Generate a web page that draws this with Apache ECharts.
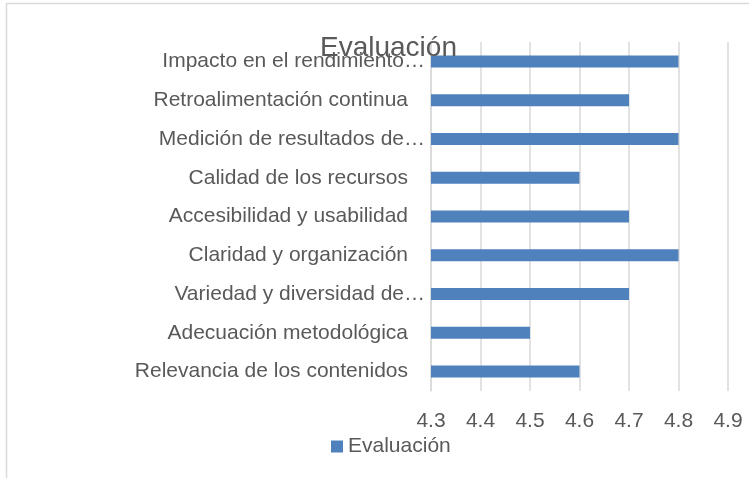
<!DOCTYPE html>
<html>
<head>
<meta charset="utf-8">
<script src="https://cdn.jsdelivr.net/npm/echarts@6/dist/echarts.min.js"></script>
<style>
  html, body { margin: 0; padding: 0; background: #fff; }
  #chart { width: 749px; height: 478px; }
</style>
</head>
<body>
<div id="chart"></div>
<script>
// bottom to top, as drawn
const categories = [
  'Relevancia de los contenidos',
  'Adecuación metodológica',
  'Variedad y diversidad de…',
  'Claridad y organización',
  'Accesibilidad y usabilidad',
  'Calidad de los recursos',
  'Medición de resultados de…',
  'Retroalimentación continua',
  'Impacto en el rendimiento…',
];
const evaluacion = [4.6, 4.5, 4.7, 4.8, 4.7, 4.6, 4.8, 4.7, 4.8];
const xMin = 4.3;
const xMax = 4.9;

const font = 'Liberation Sans, Arial, sans-serif';
const textColor = '#595959';
const gridColor = '#d9d9d9';

const chart = echarts.init(document.getElementById('chart'));
chart.setOption({
  animation: false,
  graphic: [{
    type: 'rect',
    shape: { x: 6.5, y: 3.5, width: 900, height: 700 },
    style: { fill: 'none', stroke: gridColor, lineWidth: 1.5 },
    z: -1,
  }],
  title: {
    text: 'Evaluación',
    left: 315,
    top: 29,
    textStyle: { fontFamily: font, fontSize: 28, fontWeight: 'normal', color: textColor },
  },
  legend: {
    data: ['Evaluación'],
    left: 326,
    top: 431,
    icon: 'rect',
    itemWidth: 12,
    itemHeight: 12,
    itemGap: 4,
    textStyle: { fontFamily: font, fontSize: 21, color: textColor },
  },
  grid: { left: 431, right: 21, top: 42, bottom: 87, containLabel: false },
  xAxis: {
    type: 'value',
    min: xMin,
    max: xMax,
    interval: 0.1,
    axisLine: { show: false },
    axisTick: { show: false },
    axisLabel: {
      margin: 20,
      fontFamily: font,
      fontSize: 21,
      color: textColor,
      formatter: v => v.toFixed(1),
    },
    splitLine: { lineStyle: { color: gridColor, width: 1.5 } },
  },
  yAxis: {
    type: 'category',
    data: categories,
    axisLine: { lineStyle: { color: gridColor, width: 1.5 } },
    axisTick: { show: false },
    axisLabel: {
      margin: 6,
      fontFamily: font,
      fontSize: 21,
      color: textColor,
      // Excel leaves a gap after full labels, ellipsized ones run closer to the axis
      formatter: v => v.endsWith('…') ? v : '{full|' + v + '}',
      rich: { full: { fontFamily: font, fontSize: 21, color: textColor, padding: [0, 17, 0, 0] } },
    },
  },
  series: [{
    name: 'Evaluación',
    type: 'bar',
    data: evaluacion,
    barWidth: 12,
    itemStyle: { color: '#4F81BD' },
  }],
});
</script>
</body>
</html>
